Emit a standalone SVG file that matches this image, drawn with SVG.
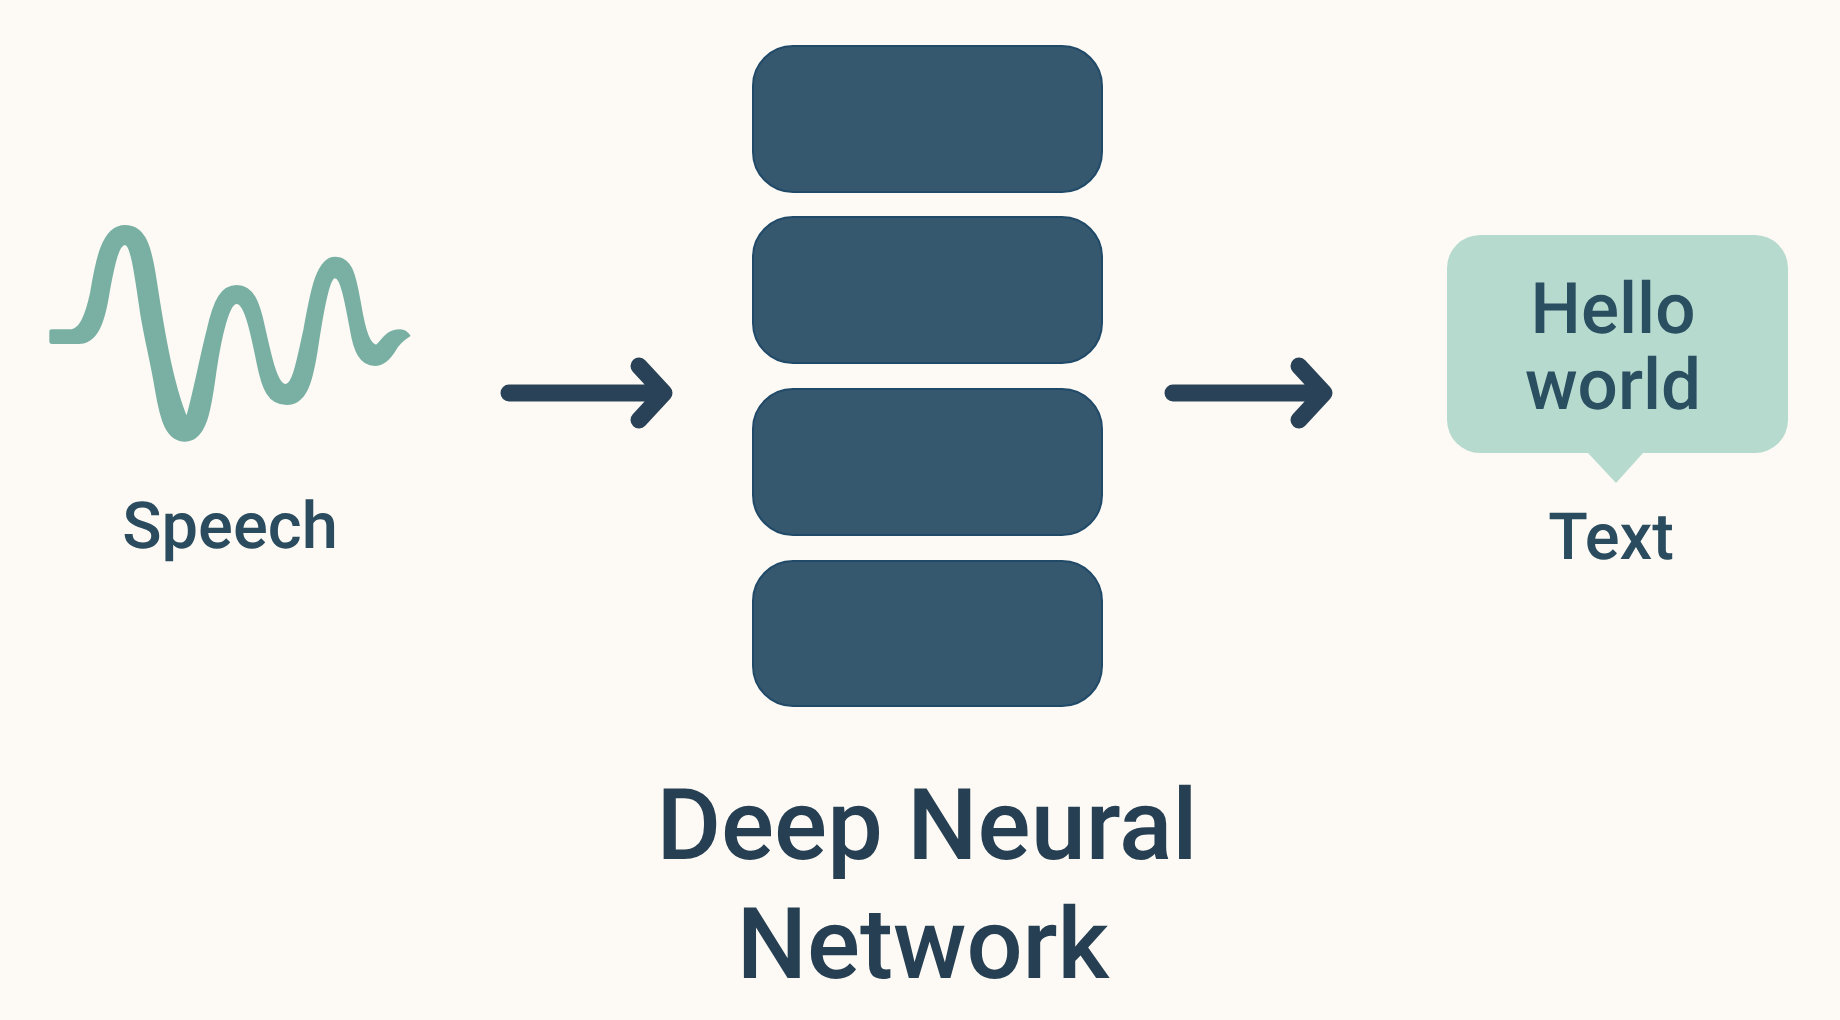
<svg xmlns="http://www.w3.org/2000/svg" width="1840" height="1020" viewBox="0 0 1840 1020">
<style>
text{font-family:Roboto,"Liberation Sans",sans-serif;text-anchor:middle;text-rendering:geometricPrecision}
.layer{fill:#36586f;stroke:#214a68;stroke-width:2}
.arrow{fill:none;stroke:#2a4257;stroke-width:17;stroke-linecap:round;stroke-linejoin:round}
.label{fill:#2a4c5e;font-size:65px;font-weight:500}
.bubble-text{fill:#2a4f60;font-size:71px;font-weight:500}
.title{fill:#263f52;font-size:99px;font-weight:500}
</style>
<rect width="1840" height="1020" fill="#fdfaf5"/>
<g id="speech">
<path transform="translate(30 200) scale(.3333)" fill="#79b0a3" stroke="#79b0a3" stroke-width="6" stroke-linejoin="round" d="M61 395Q61 391 66 391H125C150 388 168 350 183 280C198 190 215 78 285 78C345 78 362 140 377 240C397 370 425 550 470 655C490 590 510 480 533 390C553 300 575 258 620 258C670 258 687 310 702 380C722 470 740 555 767 555C790 555 803 480 823 390C843 280 860 173 915 173C970 173 977 240 992 320C1002 380 1015 437 1040 437C1055 427 1065 391 1110 391Q1128 392 1138 407C1118 420 1105 430 1095 450C1078 478 1060 495 1035 495C990 495 973 450 963 390C948 310 935 232 915 232C895 232 877 340 862 440C847 540 830 612 770 612C715 612 698 565 683 490C663 390 645 309 620 309C595 309 572 410 557 510C542 620 530 722 465 722C410 722 393 660 378 570C363 480 342 400 332 330C317 230 305 132 285 132C265 132 252 190 237 270C222 370 200 429 145 429H66Q61 429 61 424Z"/>
<text class="label" x="230" y="548">Speech</text>
</g>
<g id="network">
<rect class="layer" x="753" y="46" width="349" height="146" rx="40"/>
<rect class="layer" x="753" y="217" width="349" height="146" rx="40"/>
<rect class="layer" x="753" y="389" width="349" height="146" rx="40"/>
<rect class="layer" x="753" y="561" width="349" height="145" rx="40"/>
<text class="title" x="927" y="859">Deep Neural</text>
<text class="title" x="923" y="978">Network</text>
</g>
<g id="text-output">
<path d="M1480 235H1755A33 33 0 0 1 1788 268V420A33 33 0 0 1 1755 453H1643L1616 483L1588 453H1480A33 33 0 0 1 1447 420V268A33 33 0 0 1 1480 235Z" fill="#b7dacf"/>
<text class="bubble-text" x="1613" y="333">Hello</text>
<text class="bubble-text" x="1613" y="409">world</text>
<text class="label" x="1611" y="559">Text</text>
</g>
<g id="connectors">
<path class="arrow" d="M509 393H660M639 366L664 393L639 420"/>
<path class="arrow" d="M1173 393H1320M1299 366L1324 393L1299 420"/>
</g>
</svg>
